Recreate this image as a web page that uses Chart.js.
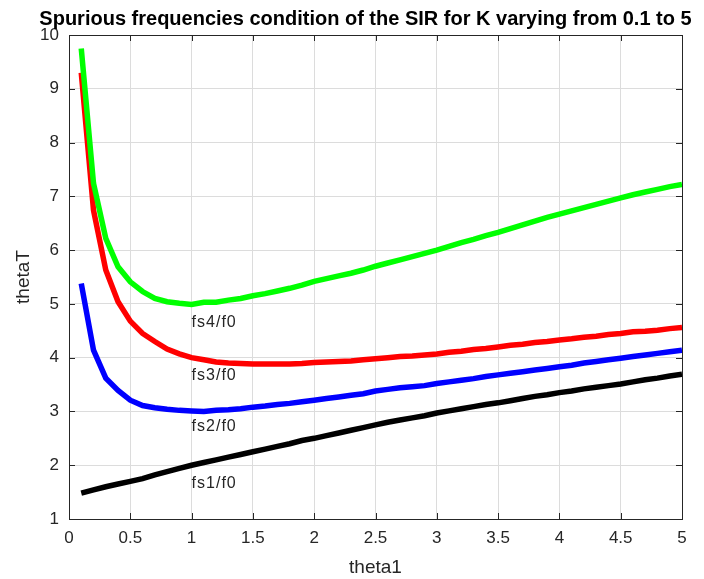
<!DOCTYPE html>
<html>
<head>
<meta charset="utf-8">
<title>Spurious frequencies condition of the SIR</title>
<script src="https://cdn.jsdelivr.net/npm/chart.js@4.4.1/dist/chart.umd.min.js"></script>
<style>
    body { margin: 0; background: #fff; }
    #wrap { width: 704px; height: 579px; }
</style>
</head>
<body>
<div id="wrap"><canvas id="sirChart" width="704" height="579"></canvas></div>
<script>
// theta1 runs from 0.1 to 5 in steps of 0.1
const theta1 = [0.1, 0.2, 0.3, 0.4, 0.5, 0.6, 0.7, 0.8, 0.9, 1.0,
    1.1, 1.2, 1.3, 1.4, 1.5, 1.6, 1.7, 1.8, 1.9, 2.0,
    2.1, 2.2, 2.3, 2.4, 2.5, 2.6, 2.7, 2.8, 2.9, 3.0,
    3.1, 3.2, 3.3, 3.4, 3.5, 3.6, 3.7, 3.8, 3.9, 4.0,
    4.1, 4.2, 4.3, 4.4, 4.5, 4.6, 4.7, 4.8, 4.9, 5.0];

const fs1 = [1.48, 1.54, 1.60, 1.65, 1.70, 1.75, 1.82, 1.88, 1.94, 2.00,
    2.05, 2.10, 2.15, 2.20, 2.25, 2.30, 2.35, 2.40, 2.46, 2.50,
    2.55, 2.60, 2.65, 2.70, 2.75, 2.80, 2.84, 2.88, 2.92, 2.97,
    3.01, 3.05, 3.09, 3.13, 3.16, 3.20, 3.24, 3.28, 3.31, 3.35,
    3.38, 3.42, 3.45, 3.48, 3.51, 3.55, 3.59, 3.62, 3.66, 3.69];

const fs2 = [5.38, 4.14, 3.62, 3.39, 3.21, 3.11, 3.07, 3.04, 3.02, 3.01,
    3.00, 3.02, 3.03, 3.05, 3.08, 3.10, 3.13, 3.15, 3.18, 3.21,
    3.24, 3.27, 3.30, 3.33, 3.38, 3.41, 3.44, 3.46, 3.48, 3.52,
    3.55, 3.58, 3.61, 3.65, 3.68, 3.71, 3.74, 3.77, 3.80, 3.83,
    3.86, 3.90, 3.93, 3.96, 3.99, 4.02, 4.05, 4.08, 4.11, 4.14];

const fs3 = [9.30, 6.74, 5.63, 5.04, 4.68, 4.45, 4.30, 4.16, 4.07, 4.00,
    3.96, 3.92, 3.90, 3.89, 3.88, 3.88, 3.88, 3.88, 3.89, 3.91,
    3.92, 3.93, 3.94, 3.96, 3.98, 4.00, 4.02, 4.03, 4.05, 4.07,
    4.10, 4.12, 4.15, 4.17, 4.20, 4.23, 4.25, 4.28, 4.30, 4.33,
    4.35, 4.38, 4.40, 4.43, 4.45, 4.48, 4.49, 4.51, 4.54, 4.56];

const fs4 = [9.75, 7.24, 6.22, 5.69, 5.41, 5.23, 5.10, 5.04, 5.01, 4.99,
    5.03, 5.03, 5.07, 5.10, 5.15, 5.19, 5.24, 5.29, 5.35, 5.42,
    5.47, 5.52, 5.57, 5.63, 5.70, 5.76, 5.82, 5.88, 5.94, 6.00,
    6.07, 6.14, 6.20, 6.27, 6.33, 6.40, 6.47, 6.54, 6.61, 6.67,
    6.73, 6.79, 6.85, 6.91, 6.97, 7.03, 7.08, 7.13, 7.18, 7.22];

// text annotations placed in data coordinates
const curveLabels = ['fs4/f0', 'fs3/f0', 'fs2/f0', 'fs1/f0'];
const curveLabelX = [1.0, 1.0, 1.0, 1.0];
const curveLabelY = [4.66, 3.66, 2.71, 1.65];

const xTicks = [0, 0.5, 1, 1.5, 2, 2.5, 3, 3.5, 4, 4.5, 5];
const yTicks = [1, 2, 3, 4, 5, 6, 7, 8, 9, 10];

const titleText = 'Spurious frequencies condition of the SIR for K varying from 0.1 to 5';
const axisColor = '#262626';
const fontFamily = '"Liberation Sans", Arial, Helvetica, sans-serif';

function toPoints(ys) {
    return theta1.map((x, i) => ({ x: x, y: ys[i] }));
}

// MATLAB-style box with inward ticks, title over the axes, curve labels
const boxPlugin = {
    id: 'box',
    beforeDatasetsDraw(chart) {
        const { ctx, chartArea: a, scales } = chart;
        ctx.save();
        ctx.strokeStyle = axisColor;
        ctx.lineWidth = 1;
        ctx.beginPath();
        xTicks.forEach(v => {
            const px = Math.round(scales.x.getPixelForValue(v)) + 0.5;
            ctx.moveTo(px, a.bottom); ctx.lineTo(px, a.bottom - 6);
            ctx.moveTo(px, a.top); ctx.lineTo(px, a.top + 6);
        });
        yTicks.forEach(v => {
            const py = Math.round(scales.y.getPixelForValue(v)) + 0.5;
            ctx.moveTo(a.left, py); ctx.lineTo(a.left + 6, py);
            ctx.moveTo(a.right, py); ctx.lineTo(a.right - 6, py);
        });
        ctx.stroke();
        ctx.strokeRect(Math.round(a.left) + 0.5, Math.round(a.top) + 0.5,
            Math.round(a.right - a.left), Math.round(a.bottom - a.top));

        ctx.fillStyle = '#000';
        ctx.font = 'bold 20px ' + fontFamily;
        ctx.textAlign = 'center';
        ctx.textBaseline = 'alphabetic';
        ctx.fillText(titleText, (a.left + a.right) / 2 - 10, 25);
        ctx.restore();
    },
    afterDatasetsDraw(chart) {
        const { ctx, scales } = chart;
        ctx.save();
        ctx.fillStyle = axisColor;
        ctx.font = '16px ' + fontFamily;
        ctx.letterSpacing = '1px';
        ctx.textAlign = 'left';
        ctx.textBaseline = 'middle';
        curveLabels.forEach((t, i) => {
            ctx.fillText(t, scales.x.getPixelForValue(curveLabelX[i]),
                scales.y.getPixelForValue(curveLabelY[i]));
        });
        ctx.restore();
    }
};

new Chart(document.getElementById('sirChart'), {
    type: 'line',
    data: {
        datasets: [
            { label: 'fs4/f0', data: toPoints(fs4), borderColor: '#00ff00' },
            { label: 'fs3/f0', data: toPoints(fs3), borderColor: '#ff0000' },
            { label: 'fs2/f0', data: toPoints(fs2), borderColor: '#0000ff' },
            { label: 'fs1/f0', data: toPoints(fs1), borderColor: '#000000' }
        ]
    },
    options: {
        responsive: false,
        animation: false,
        datasets: {
            line: {
                borderWidth: 5.5,
                pointRadius: 0,
                tension: 0,
                fill: false
            }
        },
        layout: {
            padding: { top: 35, right: 22, bottom: 0, left: 0 }
        },
        plugins: {
            legend: { display: false },
            tooltip: { enabled: false },
            title: { display: false }
        },
        scales: {
            x: {
                type: 'linear',
                min: 0,
                max: 5,
                afterFit: s => { s.height = 60; },
                afterBuildTicks: s => { s.ticks = xTicks.map(v => ({ value: v })); },
                grid: { color: '#dcdcdc', drawTicks: false },
                border: { display: false },
                ticks: {
                    color: axisColor,
                    padding: 9,
                    maxRotation: 0,
                    font: { family: fontFamily, size: 17 },
                    callback: v => String(v)
                },
                title: {
                    display: true,
                    text: 'theta1',
                    color: axisColor,
                    padding: { top: 0, bottom: 0 },
                    font: { family: fontFamily, size: 19 }
                }
            },
            y: {
                min: 1,
                max: 10,
                afterFit: s => { s.width = 69; },
                afterBuildTicks: s => { s.ticks = yTicks.map(v => ({ value: v })); },
                grid: { color: '#dcdcdc', drawTicks: false },
                border: { display: false },
                ticks: {
                    color: axisColor,
                    padding: 10,
                    font: { family: fontFamily, size: 17 },
                    callback: v => String(v)
                },
                title: {
                    display: true,
                    text: 'thetaT',
                    color: axisColor,
                    padding: { top: 12, bottom: 0 },
                    font: { family: fontFamily, size: 19 }
                }
            }
        }
    },
    plugins: [boxPlugin]
});
</script>
</body>
</html>
